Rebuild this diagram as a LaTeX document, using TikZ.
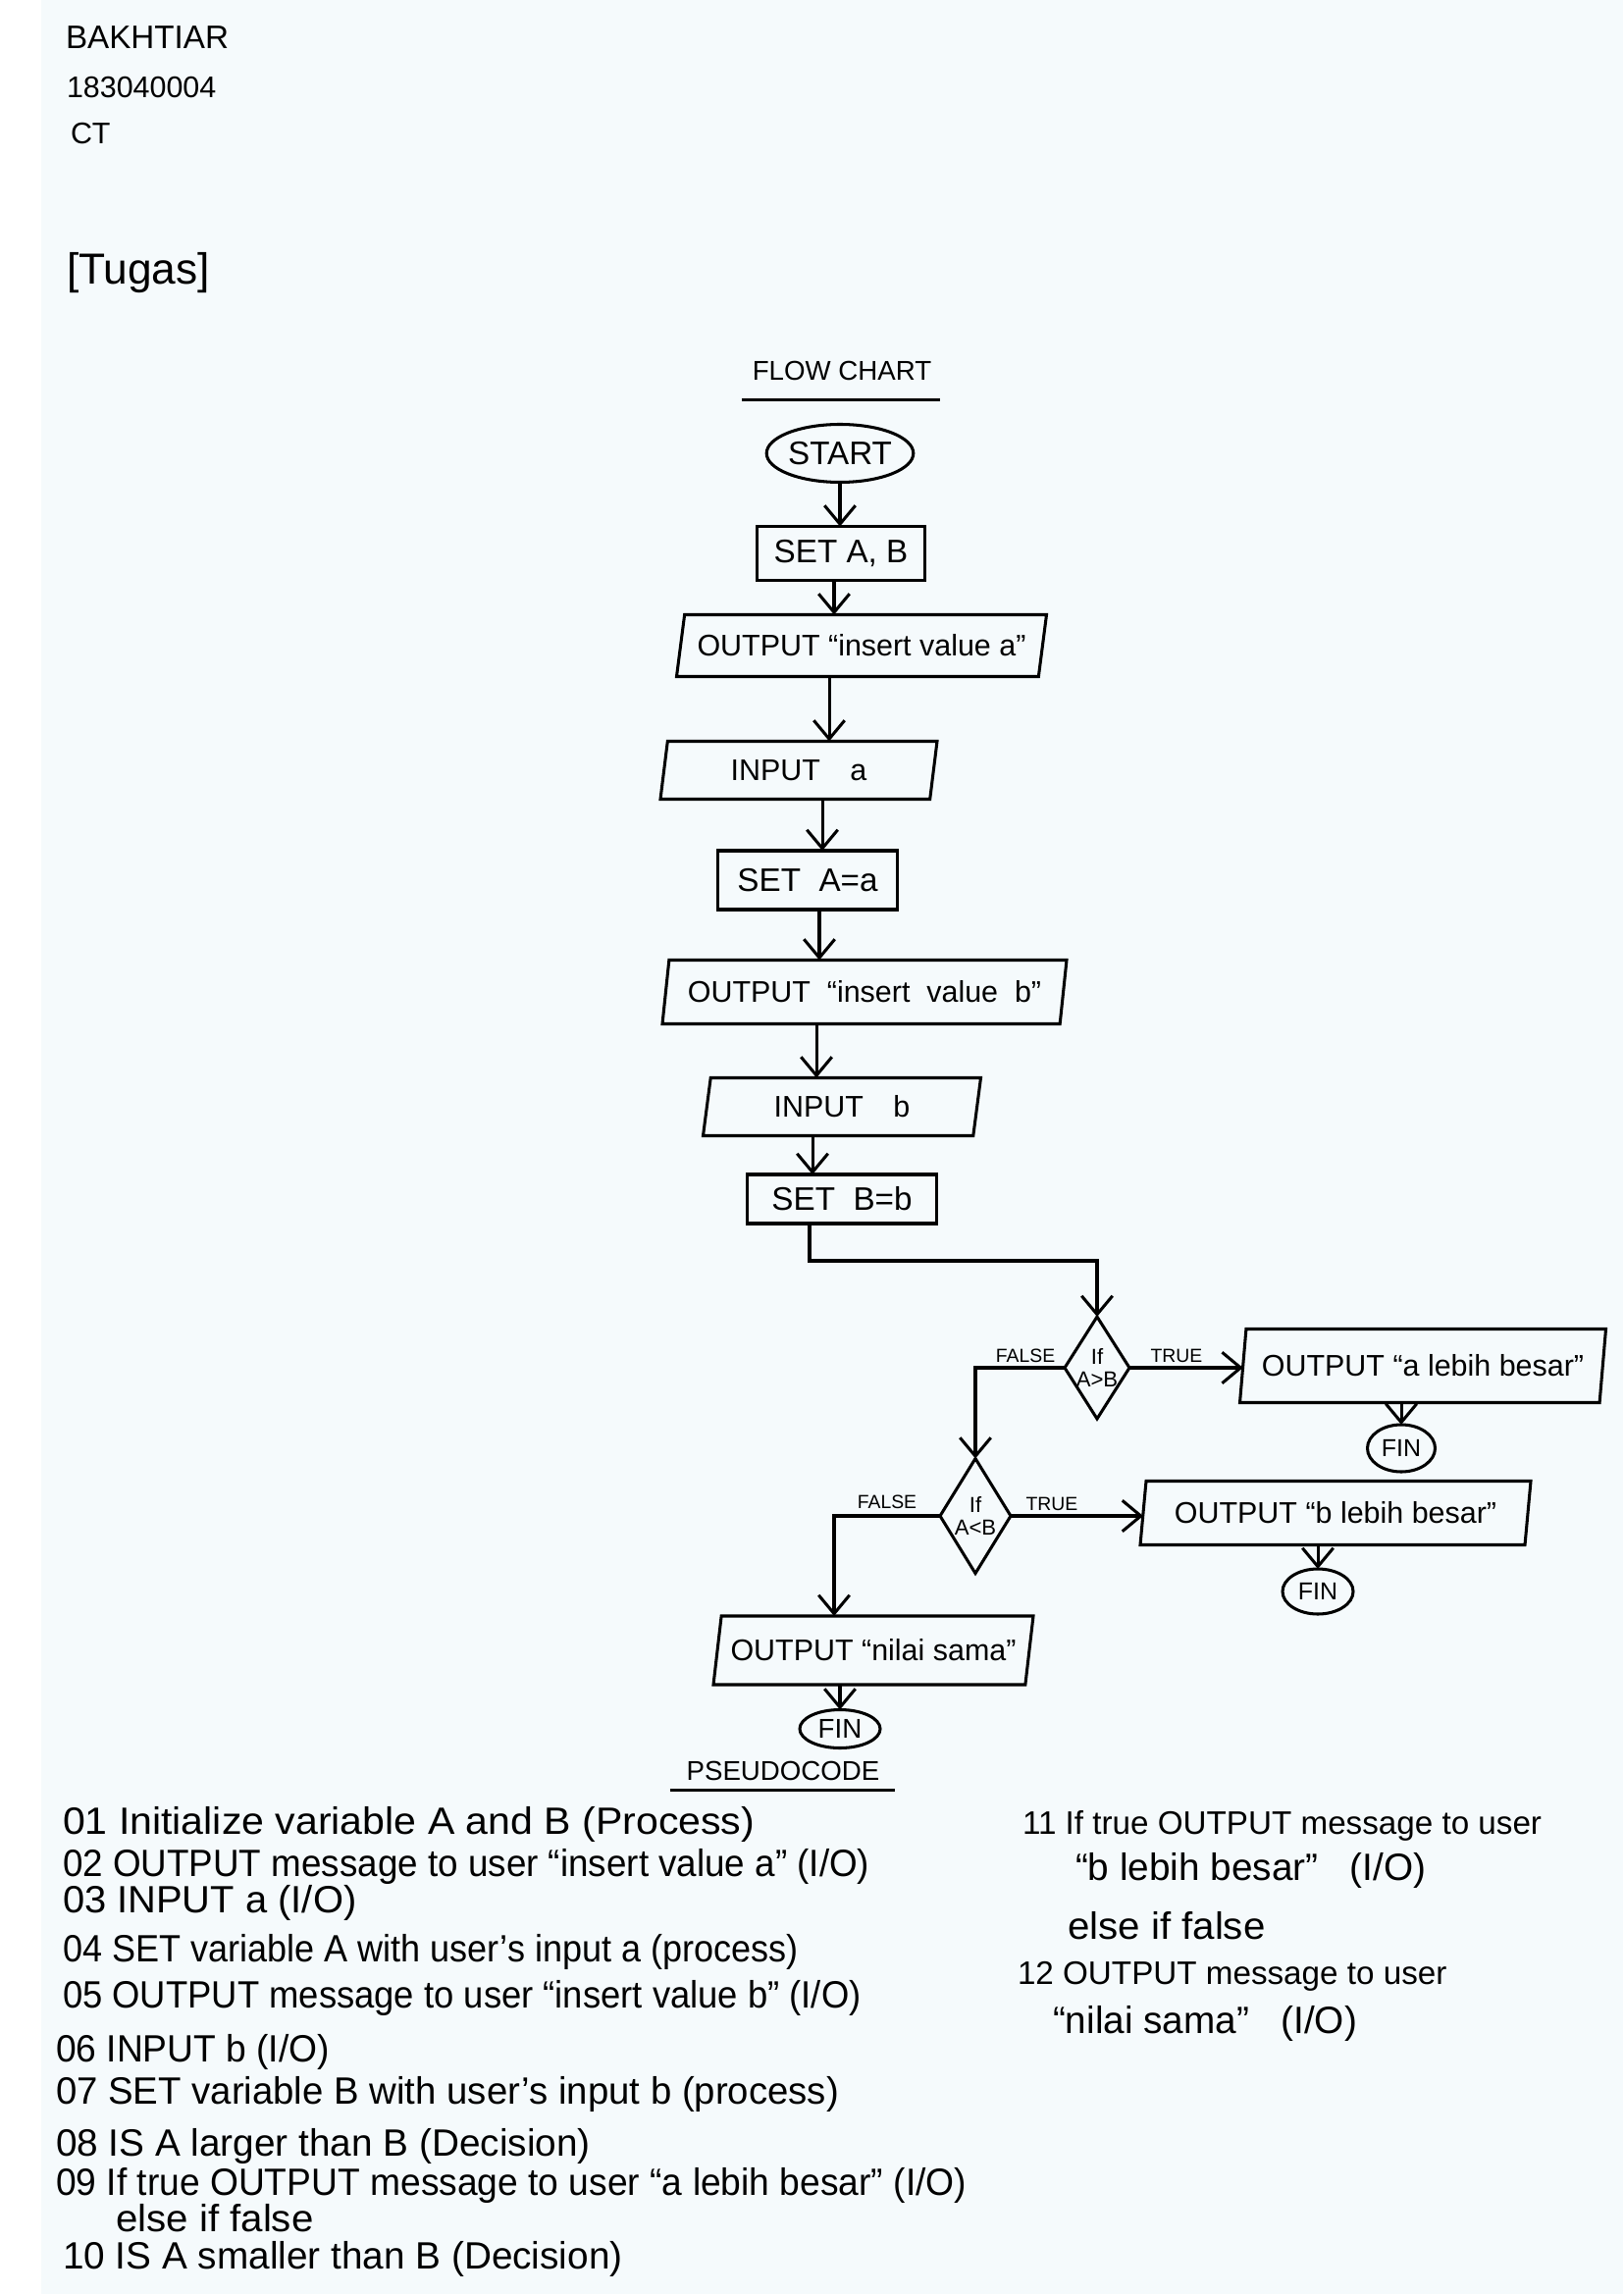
\documentclass[tikz,border=0pt]{standalone}
\usepackage{fontspec}
\setmainfont{Liberation Sans}
\usetikzlibrary{shapes.geometric,arrows.meta,calc}
\newcommand\pxu{0.127mm}
\newcommand\sx[2]{\scalebox{#1}[1]{#2}}
\definecolor{paper}{RGB}{245,250,252}
\begin{document}
\begin{tikzpicture}[x=0.127mm, y=-0.127mm,
  every node/.style={inner sep=0pt, outer sep=0pt},
  ink/.style={line width=1.1pt, draw=black},
  term/.style={ink, ellipse, font=\fontsize{12}{14}\selectfont},
  proc/.style={ink, rectangle, font=\fontsize{12}{14}\selectfont},
  io/.style={ink, trapezium, trapezium left angle=71, trapezium right angle=109,
     trapezium stretches body=true, font=\fontsize{11}{13}\selectfont},
  dec/.style={ink, diamond},
  dtxt/.style={align=center, font=\fontsize{8}{8.5}\selectfont},
  lbl/.style={anchor=south, font=\fontsize{7}{8}\selectfont},
  arr/.style={line width=1.1pt, -{Straight Barb[length=2.4mm, width=4mm]}},
  hd/.style={anchor=base west, font=\fontsize{12}{14}\selectfont},
  code/.style={anchor=base west, font=\fontsize{14}{16}\selectfont},
  codes/.style={code, font=\fontsize{12}{14}\selectfont},
]
\fill[paper] (0,0) rectangle (1654,2338);
\fill[white] (0,0) rectangle (42,2338);
\useasboundingbox (0,0) rectangle (1654,2338);

% header
\node[hd] (name) at (67,50) {BAKHTIAR};
\node[hd, font=\fontsize{11}{13}\selectfont] (nim) at (68,100) {183040004};
\node[hd, font=\fontsize{11}{13}\selectfont] (cls) at (72,147) {CT};
\node[hd, font=\fontsize{16}{19}\selectfont] (tugas) at (68,290) {[Tugas]};

% title
\node[font=\fontsize{10}{12}\selectfont] (fc) at (858,378) {FLOW CHART};
\draw[ink] ($(fc.south west)+(-11,20)$) -- ($(fc.south east)+(9,20)$);

% main column
\node[term, minimum width=142*\pxu, minimum height=59*\pxu] (start) at (856,462) {START};
\node[proc, minimum width=171*\pxu, minimum height=55*\pxu] (setab) at (857,564) {SET A, B};
\node[io, trapezium left angle=70, trapezium right angle=110, minimum width=377*\pxu, minimum height=63*\pxu] (outa) at (878,658) {OUTPUT “insert value a”};
\node[io, minimum width=282*\pxu, minimum height=59*\pxu] (inpa) at (814,785) {INPUT\quad a\hspace{10.4mm}};
\node[proc, minimum width=183*\pxu, minimum height=60*\pxu] (seta) at (823,897) {SET\ \ A=a};
\node[io, trapezium left angle=73, trapezium right angle=107, minimum width=412*\pxu, minimum height=65*\pxu] (outb) at (881,1011) {OUTPUT\ \ “insert\ \ value\ \ b”};
\node[io, minimum width=283*\pxu, minimum height=59*\pxu] (inpb) at (858,1128) {INPUT\quad b\hspace{12.7mm}};
\node[proc, minimum width=193*\pxu, minimum height=50*\pxu] (setb) at (858,1222) {SET\ \ B=b};

% decisions
\node[dec, minimum width=66*\pxu, minimum height=104*\pxu] (d1) at (1118,1394) {};
\node[dtxt] (d1t) at (1118,1394) {If\\A>B};
\node[lbl] (f1) at (1045,1389) {FALSE};
\node[lbl] (t1) at (1199,1389) {TRUE};
\node[io, trapezium left angle=74, trapezium right angle=106, minimum width=373*\pxu, minimum height=75*\pxu] (outA) at (1450,1392) {OUTPUT “a lebih besar”};
\node[term, minimum width=69*\pxu, minimum height=48*\pxu, font=\fontsize{9}{10}\selectfont] (fin1) at (1428,1476) {FIN};

\node[dec, minimum width=72*\pxu, minimum height=117*\pxu] (d2) at (994,1545) {};
\node[dtxt] (d2t) at (994,1545) {If\\A<B};
\node[lbl] (f2) at (904,1538) {FALSE};
\node[lbl] (t2) at (1072,1540) {TRUE};
\node[io, trapezium left angle=75, trapezium right angle=105, minimum width=398*\pxu, minimum height=65*\pxu] (outB) at (1361,1542) {OUTPUT “b lebih besar”};
\node[term, minimum width=72*\pxu, minimum height=46*\pxu, font=\fontsize{9}{10}\selectfont] (fin2) at (1343,1622) {FIN};

\node[io, trapezium left angle=70, trapezium right angle=110, minimum width=326*\pxu, minimum height=70*\pxu] (outS) at (890,1682) {OUTPUT “nilai sama”};
\node[term, minimum width=82*\pxu, minimum height=39*\pxu, font=\fontsize{10}{12}\selectfont] (fin3) at (856,1762) {FIN};

\node[font=\fontsize{10}{12}\selectfont] (pc) at (798,1805) {PSEUDOCODE};
\draw[ink] ($(pc.south west)+(-17,10)$) -- ($(pc.south east)+(16,10)$);

% connectors
\draw[arr] (start.south) -- (start.south |- setab.north);
\draw[arr] ($(setab.south)+(-7,0)$) coordinate (c2) -- (c2 |- outa.north);
\draw[arr] ($(outa.south)+(-33,0)$) coordinate (c3) -- (c3 |- inpa.north);
\draw[arr] ($(inpa.south)+(24,0)$) coordinate (c4) -- (c4 |- seta.north);
\draw[arr] ($(seta.south)+(12,0)$) coordinate (c5) -- (c5 |- outb.north);
\draw[arr] ($(outb.south)+(-49,0)$) coordinate (c6) -- (c6 |- inpb.north);
\draw[arr] ($(inpb.south)+(-30,0)$) coordinate (c7) -- (c7 |- setb.north);
\draw[arr] ($(setb.south)+(-33,0)$) -- ++(0,38) -| (d1.north);
\draw[arr] (d1.east) -- (d1.east -| outA.west);
\draw[arr] (fin1.north |- outA.south) -- (fin1.north);
\draw[arr] (d1.west) -| (d2.north);
\draw[arr] (d2.east) -- (d2.east -| outB.west);
\draw[arr] (fin2.north |- outB.south) -- (fin2.north);
\draw[arr] (d2.west) -- ++(-108,0) coordinate (c9) -- (c9 |- outS.north);
\draw[arr] (fin3.north |- outS.south) -- (fin3.north);

% pseudocode
\node[code] (p01) at (64,1869) {\sx{1.06}{01 Initialize variable A and B (Process)}};
\node[code] (p02) at (64,1912) {\sx{0.95}{02 OUTPUT message to user “insert value a” (I/O)}};
\node[code] (p03) at (64,1949) {\sx{1.03}{03 INPUT a (I/O)}};
\node[code] (p04) at (64,1999) {\sx{0.93}{04 SET variable A with user's input a (process)}};
\node[code] (p05) at (64,2046) {\sx{0.94}{05 OUTPUT message to user “insert value b” (I/O)}};
\node[code] (p06) at (57,2101) {\sx{0.96}{06 INPUT b (I/O)}};
\node[code] (p07) at (57,2144) {\sx{0.99}{07 SET variable B with user's input b (process)}};
\node[code] (p08) at (57,2197) {08 IS A larger than B (Decision)};
\node[code] (p09) at (57,2237) {\sx{0.96}{09 If true OUTPUT message to user “a lebih besar” (I/O)}};
\node[code] (p09e) at (118,2274) {\sx{1.04}{else if false}};
\node[code] (p10) at (64,2312) {10 IS A smaller than B (Decision)};
\node[codes] (p11) at (1042,1869) {11 If true OUTPUT message to user};
\node[code] (p11b) at (1096,1916) {“b\ lebih\ besar”\ \ \ (I/O)};
\node[code] (p11e) at (1088,1976) {\sx{1.04}{else if false}};
\node[codes] (p12) at (1037,2022) {12 OUTPUT message to user};
\node[code] (p12b) at (1073,2072) {“nilai\ sama”\ \ \ (I/O)};
\end{tikzpicture}
\end{document}
